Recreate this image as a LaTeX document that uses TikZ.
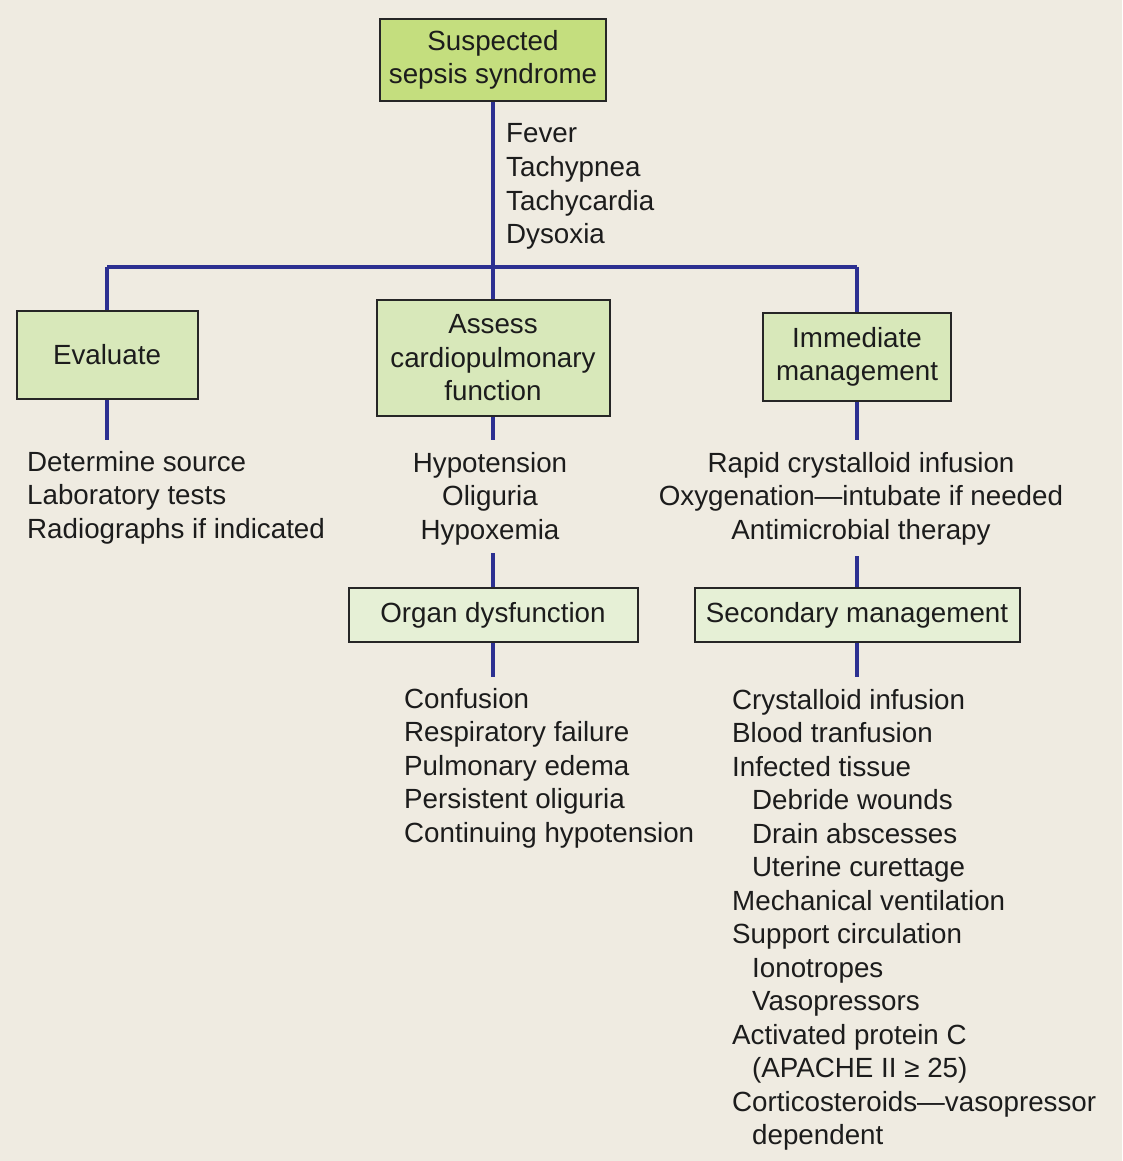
\documentclass[tikz,border=0pt]{standalone}
\usepackage{fontspec}
\setmainfont{Liberation Sans}
\definecolor{bgc}{RGB}{239,235,225}
\definecolor{topfill}{RGB}{196,222,126}
\definecolor{midfill}{RGB}{216,232,186}
\definecolor{lowfill}{RGB}{230,240,214}
\definecolor{linec}{RGB}{44,48,145}
\definecolor{txt}{RGB}{28,28,28}
\begin{document}
\begin{tikzpicture}[x=1pt,y=-1pt,
  every node/.style={font=\fontsize{27.75}{33.5}\selectfont, text=txt},
  box/.style={draw=black!85, line width=2pt, inner sep=0pt, align=center},
  conn/.style={draw=linec, line width=3.5pt},
  lt/.style={anchor=base west, inner sep=0pt},
  ct/.style={anchor=base, inner sep=0pt}]
\useasboundingbox (0,0) rectangle (1122,1161);
\fill[bgc] (0,0) rectangle (1122,1161);

% coordinates
\coordinate (hl) at (107,267);
\coordinate (hm) at (493,267);
\coordinate (hr) at (857,267);
\coordinate (e1) at (107,440);
\coordinate (a1) at (493,440);
\coordinate (a2) at (493,553);
\coordinate (a3) at (493,677);
\coordinate (i1) at (857,440);
\coordinate (i2) at (857,556);
\coordinate (i3) at (857,677);

% boxes
\node[box, fill=topfill, minimum width=226pt, minimum height=82pt] (top) at (493,60) {Suspected\\sepsis syndrome};
\node[box, fill=midfill, minimum width=181pt, minimum height=88pt] (eval) at (107,355) {Evaluate};
\node[box, fill=midfill, minimum width=233pt, minimum height=116pt] (assess) at (493,358) {Assess\\cardiopulmonary\\function};
\node[box, fill=midfill, minimum width=188pt, minimum height=88pt] (imm) at (857,357) {Immediate\\management};
\node[box, fill=lowfill, minimum width=289pt, minimum height=54pt] (organ) at (493,615) {Organ dysfunction};
\node[box, fill=lowfill, minimum width=325pt, minimum height=54pt] (sec) at (857,615) {Secondary management};

% connectors
\draw[conn] (top.south) -- (hm);
\draw[conn] (hl) -- (hr);
\draw[conn] (hl) -- (eval.north);
\draw[conn] (hm) -- (assess.north);
\draw[conn] (hr) -- (imm.north);
\draw[conn] (eval.south) -- (e1);
\draw[conn] (assess.south) -- (a1);
\draw[conn] (a2) -- (organ.north);
\draw[conn] (organ.south) -- (a3);
\draw[conn] (imm.south) -- (i1);
\draw[conn] (i2) -- (sec.north);
\draw[conn] (sec.south) -- (i3);

% signs list
\node[lt] (f1) at (506,143) {Fever};
\node[lt] (f2) at (506,176.5) {Tachypnea};
\node[lt] (f3) at (506,210) {Tachycardia};
\node[lt] (f4) at (506,243.5) {Dysoxia};

% evaluate list
\node[lt] (ev1) at (27,471) {Determine source};
\node[lt] (ev2) at (27,504.5) {Laboratory tests};
\node[lt] (ev3) at (27,538) {Radiographs if indicated};

% assess list
\node[ct] (as1) at (490,472) {Hypotension};
\node[ct] (as2) at (490,505.5) {Oliguria};
\node[ct] (as3) at (490,539) {Hypoxemia};

% immediate list
\node[ct] (im1) at (861,472) {Rapid crystalloid infusion};
\node[ct] (im2) at (861,505.5) {Oxygenation—intubate if needed};
\node[ct] (im3) at (861,539) {Antimicrobial therapy};

% organ list
\node[lt] (or1) at (404,708) {Confusion};
\node[lt] (or2) at (404,741.5) {Respiratory failure};
\node[lt] (or3) at (404,775) {Pulmonary edema};
\node[lt] (or4) at (404,808.5) {Persistent oliguria};
\node[lt] (or5) at (404,842) {Continuing hypotension};

% secondary list
\node[lt] (s1) at (732,709) {Crystalloid infusion};
\node[lt] (s2) at (732,742.5) {Blood tranfusion};
\node[lt] (s3) at (732,776) {Infected tissue};
\node[lt] (s4) at (752,809.5) {Debride wounds};
\node[lt] (s5) at (752,843) {Drain abscesses};
\node[lt] (s6) at (752,876.5) {Uterine curettage};
\node[lt] (s7) at (732,910) {Mechanical ventilation};
\node[lt] (s8) at (732,943.5) {Support circulation};
\node[lt] (s9) at (752,977) {Ionotropes};
\node[lt] (s10) at (752,1010.5) {Vasopressors};
\node[lt] (s11) at (732,1044) {Activated protein C};
\node[lt] (s12) at (752,1077.5) {(APACHE II ≥ 25)};
\node[lt] (s13) at (732,1111) {Corticosteroids—vasopressor};
\node[lt] (s14) at (752,1144.5) {dependent};
\end{tikzpicture}
\end{document}
